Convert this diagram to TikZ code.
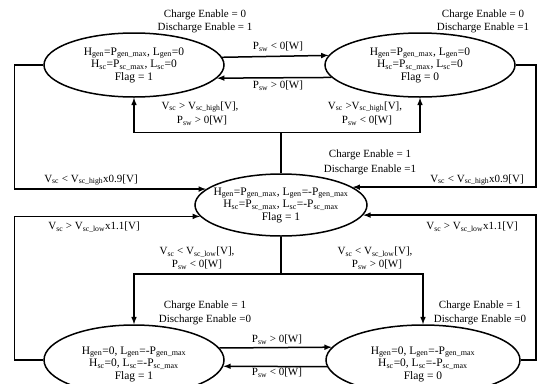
\documentclass[tikz,border=0pt]{standalone}
\usepackage{fontspec}
\setmainfont{Liberation Serif}
\usetikzlibrary{shapes,arrows}

\tikzset{
  state/.style={draw, ellipse, line width=1.5pt, inner sep=0pt},
  stxt/.style={align=center, inner sep=0pt, font=\fontsize{11.5}{12.5}\selectfont},
  lbl/.style={inner sep=0.75pt, font=\fontsize{11}{13}\selectfont},
  wire/.style={line width=1.5pt},
}

\begin{document}
\begin{tikzpicture}[x=1pt,y=1pt,yscale=-1,>=latex]
    \useasboundingbox (0,0) rectangle (537,383);
    \clip (0,0) rectangle (537,383);

    %Shape: Ellipse
    \node[state, minimum width=180pt, minimum height=64pt] (topL) at (134,65) {};
    \node[stxt] (topLtxt) at (topL) {H\textsubscript{gen}=P\textsubscript{gen\_max}, L\textsubscript{gen}=0\\H\textsubscript{sc}=P\textsubscript{sc\_max}, L\textsubscript{sc}=0\\Flag = 1};
    %Shape: Ellipse
    \node[state, minimum width=190pt, minimum height=64pt] (topR) at (420,65) {};
    \node[stxt] (topRtxt) at (topR) {H\textsubscript{gen}=P\textsubscript{gen\_max}, L\textsubscript{gen}=0\\H\textsubscript{sc}=P\textsubscript{sc\_max}, L\textsubscript{sc}=0\\Flag = 0};
    %Shape: Ellipse
    \node[state, minimum width=172pt, minimum height=62pt] (mid) at (281,205) {};
    \node[stxt] (midtxt) at (mid) {H\textsubscript{gen}=P\textsubscript{gen\_max}, L\textsubscript{gen}=-P\textsubscript{gen\_max}\\H\textsubscript{sc}=P\textsubscript{sc\_max}, L\textsubscript{sc}=-P\textsubscript{sc\_max}\\Flag = 1};
    %Shape: Ellipse
    \node[state, minimum width=180pt, minimum height=70pt] (botL) at (134,360) {};
    \node[stxt] (botLtxt) at ([yshift=4]botL.center) {H\textsubscript{gen}=0, L\textsubscript{gen}=-P\textsubscript{gen\_max}\\H\textsubscript{sc}=0, L\textsubscript{sc}=-P\textsubscript{sc\_max}\\Flag = 1};
    %Shape: Ellipse
    \node[state, minimum width=194pt, minimum height=70pt] (botR) at (423,360) {};
    \node[stxt] (botRtxt) at ([yshift=4]botR.center) {H\textsubscript{gen}=0, L\textsubscript{gen}=-P\textsubscript{gen\_max}\\H\textsubscript{sc}=0, L\textsubscript{sc}=-P\textsubscript{sc\_max}\\Flag = 0};

    %Straight Lines
    \draw[wire,->] (topL.5.95) -- (topR.174.36);
    \draw[wire,->] (topR.188.52) -- (topL.-9);
    \draw[wire,->] (botL.8.08) -- (botR.172.5);
    \draw[wire,->] (botR.184.21) -- (botL.-4.54);
    %Straight Lines
    \draw[wire] (mid.north) -- ++(0,-41) coordinate (jUp);
    \draw[wire,->] (jUp) -| (topL.south);
    \draw[wire,->] (jUp) -| (topR.south);
    \draw[wire] (mid.south) -- ++(0,37) coordinate (jDn);
    \draw[wire,->] (jDn) -| (botL.north);
    \draw[wire,->] (jDn) -| (botR.north);
    %Straight Lines
    \draw[wire,->] (topL.west) -- ++(-29,0) |- (mid.168.7);
    \draw[wire,->] (botL.west) -- ++(-29,0) |- (mid.188.6);
    \draw[wire,->] (topR.east) -- ++(20,0) |- (mid.14.4);
    \draw[wire,->] (botR.east) -- ++(15,0) |- (mid.-7);

    % Text Node
    \node[lbl] (chTL) at (205,15) {Charge Enable = 0};
    \node[lbl] (dchTL) at (205,28) {Discharge Enable = 1};
    \node[lbl] (chTR) at (483,15) {Charge Enable = 0};
    \node[lbl] (dchTR) at (483,28) {Discharge Enable =1};
    \node[lbl] (chM) at (370,155) {Charge Enable = 1};
    \node[lbl] (dchM) at (370,170) {Discharge Enable =1};
    \node[lbl] (chBL) at (205,306) {Charge Enable = 1};
    \node[lbl] (dchBL) at (205,320) {Discharge Enable =0};
    \node[lbl] (chBR) at (480,306) {Charge Enable = 1};
    \node[lbl] (dchBR) at (480,320) {Discharge Enable =0};
    % Text Node
    \node[lbl] (pTop1) at (278,47) {P\textsubscript{sw} < 0[W]};
    \node[lbl] (pTop2) at (278,86) {P\textsubscript{sw} > 0[W]};
    \node[lbl] (pBot1) at (277,340) {P\textsubscript{sw} > 0[W]};
    \node[lbl] (pBot2) at (277,373) {P\textsubscript{sw} < 0[W]};
    % Text Node
    \node[lbl] (vUpL) at (200,107) {V\textsubscript{sc} > V\textsubscript{sc\_high}[V],};
    \node[lbl] (pUpL) at (202,121) {P\textsubscript{sw} > 0[W]};
    \node[lbl] (vUpR) at (365,107) {V\textsubscript{sc} >V\textsubscript{sc\_high}[V],};
    \node[lbl] (pUpR) at (367,121) {P\textsubscript{sw} < 0[W]};
    \node[lbl] (vDnL) at (197,252) {V\textsubscript{sc} < V\textsubscript{sc\_low}[V],};
    \node[lbl] (pDnL) at (197,265) {P\textsubscript{sw} < 0[W]};
    \node[lbl] (vDnR) at (375,252) {V\textsubscript{sc} < V\textsubscript{sc\_low}[V],};
    \node[lbl] (pDnR) at (377,265) {P\textsubscript{sw} > 0[W]};
    % Text Node
    \node[lbl] (vHiL) at (91,180) {V\textsubscript{sc} < V\textsubscript{sc\_high}x0.9[V]};
    \node[lbl] (vLoL) at (94,227) {V\textsubscript{sc} > V\textsubscript{sc\_low}x1.1[V]};
    \node[lbl] (vHiR) at (477,180) {V\textsubscript{sc} < V\textsubscript{sc\_high}x0.9[V]};
    \node[lbl] (vLoR) at (472,227) {V\textsubscript{sc} > V\textsubscript{sc\_low}x1.1[V]};

\end{tikzpicture}
\end{document}
